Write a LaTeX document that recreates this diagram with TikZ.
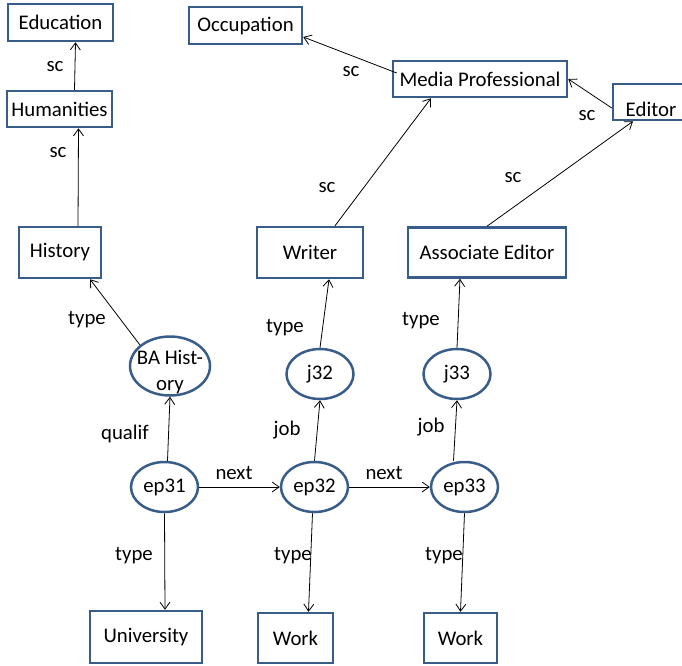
\documentclass[tikz,border=0pt]{standalone}
\usepackage{fontspec}
\setmainfont{Carlito}
\usetikzlibrary{shapes.geometric,arrows.meta}
\definecolor{boxblue}{RGB}{56,93,138}
\tikzset{
  concept/.style={draw=boxblue,line width=2.5pt,inner sep=0pt,minimum height=36pt},
  oval/.style={draw=boxblue,ellipse,line width=2.5pt,inner sep=0pt,minimum width=67pt,minimum height=50pt},
  rel/.style={inner sep=0pt},
  link/.style={->,line width=0.8pt},
}

\begin{document}
\begin{tikzpicture}[x=1pt,y=-1pt,font=\fontsize{20.8}{26}\selectfont,>={Straight Barb[length=7pt,width=10pt]}]
\useasboundingbox (0,0) rectangle (682,665);
\node[concept,minimum width=105pt,minimum height=37pt] (education) at (60.5,22.5) {Education};
\node[concept,minimum width=105pt] (humanities) at (59.5,109) {Humanities};
\node[concept,minimum width=113pt,minimum height=37pt] (occupation) at (245.5,25.5) {Occupation};
\node[concept,minimum width=174pt] (mediaprof) at (480,79) {Media Professional};
\node[concept,minimum width=76pt,text height=29pt,text depth=0pt] (editor) at (651,102) {Editor};
\node[concept,minimum width=82pt,minimum height=51pt] (history) at (60,252.5) {History};
\node[concept,minimum width=106pt,minimum height=51pt] (writer) at (310,252.5) {Writer};
\node[concept,minimum width=158pt,minimum height=50pt] (assoceditor) at (487,252.5) {Associate Editor};
\node[oval,minimum width=80pt,minimum height=59pt,label={[align=center,yshift=-6pt]center:BA Hist-\\ory}] (bahistory) at (170,366) {};
\node[oval] (j32) at (320,374) {j32};
\node[oval] (j33) at (457,374) {j33};
\node[oval] (ep31) at (164.5,487) {ep31};
\node[oval] (ep32) at (314.5,487) {ep32};
\node[oval] (ep33) at (464.5,487) {ep33};
\node[concept,minimum width=112pt,minimum height=52pt] (university) at (146,637) {University};
\node[concept,minimum width=75pt,minimum height=50pt] (work2) at (295.5,638) {Work};
\node[concept,minimum width=73pt,minimum height=50pt] (work3) at (460.5,638) {Work};

% edge labels
\node[rel] (scedu) at (55,67) {sc};
\node[rel] (schum) at (58,153) {sc};
\node[rel] (scocc) at (351,72) {sc};
\node[rel] (scwri) at (327,188) {sc};
\node[rel] (scedi) at (587,116) {sc};
\node[rel] (scass) at (513,178) {sc};
\node[rel] (typehis) at (87,320) {type};
\node[rel] (typewri) at (285,328) {type};
\node[rel] (typeass) at (421,321) {type};
\node[rel] (qualif) at (125,434) {qualif};
\node[rel] (job32) at (287,430) {job};
\node[rel] (job33) at (431,427) {job};
\node[rel] (next1) at (234,473) {next};
\node[rel] (next2) at (384,473) {next};
\node[rel] (typeuni) at (134,556) {type};
\node[rel] (typew2) at (293,556) {type};
\node[rel] (typew3) at (444,556) {type};

\draw[link] ([xshift=15pt]humanities.north) -- ([xshift=15pt]education.south); \draw[link] ([xshift=18pt]history.north) -- ([xshift=19pt]humanities.south); \draw[link] (bahistory.145) -- ([xshift=30pt]history.south); \draw[link] ([xshift=3pt]ep31.north) -- (bahistory.south); \draw[link] (ep31.south) -- ([xshift=19pt]university.north); \draw[link] (ep31.east) -- (ep32.west); \draw[link] (ep32.east) -- (ep33.west); \draw[link] (ep32.north) -- (j32.south); \draw[link] (j32.north) -- ([xshift=19pt]writer.south); \draw[link] ([xshift=-11pt]ep33.north) -- (j33.south); \draw[link] (j33.north) -- ([xshift=-27pt]assoceditor.south); \draw[link] ([xshift=-2pt]ep32.south) -- ([xshift=13pt]work2.north); \draw[link] (ep33.south) -- (work3.north);
\draw[link] ([xshift=25pt]writer.north) -- ([xshift=-49pt]mediaprof.south); \draw[link] (assoceditor.north) -- ([xshift=-18pt]editor.south); \draw[link] ([yshift=-6pt]editor.west) -- (mediaprof.east); \draw[link] ([shift={(5pt,6pt)}]mediaprof.west) -- ([yshift=-11.5pt]occupation.east);
\end{tikzpicture}
\end{document}
